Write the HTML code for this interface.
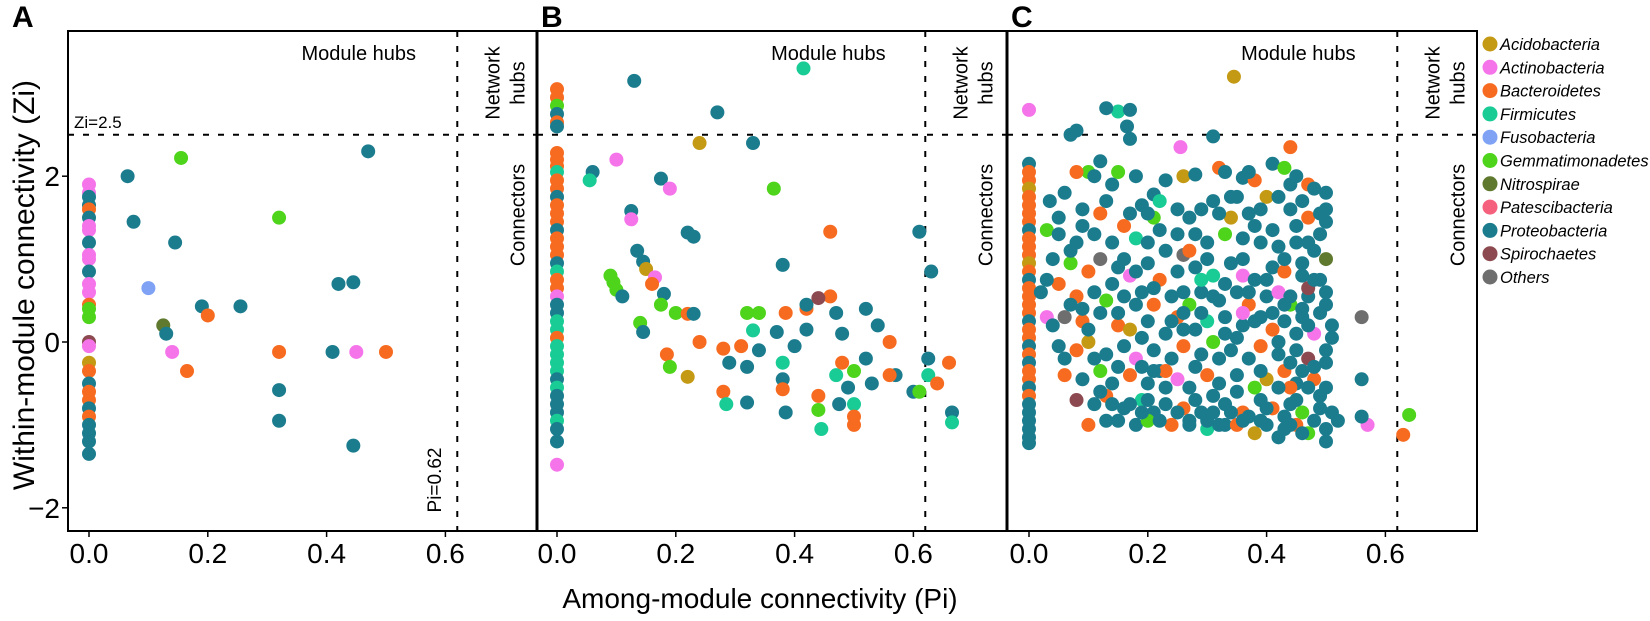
<!DOCTYPE html>
<html><head><meta charset="utf-8"><style>
body{margin:0;background:#fff;}
svg{display:block;font-family:"Liberation Sans",Arial,sans-serif;}
</style></head><body>
<svg id="chart" width="1650" height="621" viewBox="0 0 1650 621" xmlns="http://www.w3.org/2000/svg">
<g id="frames"></g>
<g id="dots"></g>
<g id="annot"></g>
<text x="0" y="0" transform="translate(34,285) rotate(-90)" text-anchor="middle" font-size="30">Within-module connectivity (Zi)</text>
<text x="760" y="608" text-anchor="middle" font-size="28">Among-module connectivity (Pi)</text>
<g id="legend"></g>
</svg>
<script>
const phyla=["Acidobacteria","Actinobacteria","Bacteroidetes","Firmicutes","Fusobacteria","Gemmatimonadetes","Nitrospirae","Patescibacteria","Proteobacteria","Spirochaetes","Others"];
const colors=["#c49a14","#f574ea","#f76b20","#19cc96","#7fa2f5","#4ed41a","#5f7a2e","#f5607d","#1b7c8e","#8c4a50","#6e6e6e"];
const xTicks=[0.0,0.2,0.4,0.6];
const yTicks=[-2,0,2];
const ziThreshold=2.5, piThreshold=0.62;
// [Pi, Zi, phylum index] triples
const dataA=[0,1.9,1,0,1.8,1,0,1.75,8,0,1.65,8,0,1.6,2,0,1.5,8,0,1.4,1,0,1.35,1,0,1.2,8,0,1.05,1,0,1.0,1,0,0.85,8,0,0.7,1,0,0.6,1,0,0.45,2,0,0.4,5,0,0.3,5,0,0.0,9,0,-0.05,1,0,-0.25,0,0,-0.35,2,0,-0.5,8,0,-0.6,2,0,-0.7,2,0,-0.8,8,0,-0.9,2,0,-1.0,8,0,-1.1,8,0,-1.2,8,0,-1.35,8,
0.065,2.0,8,0.075,1.45,8,0.1,0.65,4,0.125,0.2,6,0.13,0.1,8,0.14,-0.12,1,0.145,1.2,8,0.155,2.22,5,0.165,-0.35,2,0.19,0.43,8,0.2,0.32,2,0.255,0.43,8,0.32,1.5,5,0.32,-0.12,2,0.32,-0.58,8,0.32,-0.95,8,0.41,-0.12,8,0.42,0.7,8,0.445,0.72,8,0.45,-0.12,1,0.445,-1.25,8,0.47,2.3,8,0.5,-0.12,2];
const dataB=[0,3.05,2,0,2.95,2,0,2.85,5,0,2.75,8,0,2.65,2,0,2.6,8,0,2.28,2,0,2.2,2,0,2.12,2,0,2.05,3,0,1.95,2,0,1.85,2,0,1.75,8,0,1.65,2,0,1.55,2,0,1.45,2,0,1.35,8,0,1.25,2,0,1.15,2,0,1.05,2,0,0.95,8,0,0.85,3,0,0.75,2,0,0.65,2,0,0.55,1,0,0.45,8,0,0.35,8,0,0.25,3,0,0.15,3,0,0.05,2,0,-0.05,3,0,-0.15,3,0,-0.25,3,0,-0.35,3,0,-0.45,8,0,-0.55,3,0,-0.65,8,0,-0.75,8,0,-0.85,8,0,-0.95,3,0,-1.05,8,0,-1.2,8,0,-1.48,1,
0.13,3.15,8,0.415,3.3,3,0.27,2.77,8,0.24,2.4,0,0.1,2.2,1,0.06,2.05,8,0.055,1.95,3,0.33,2.4,8,0.175,1.97,8,0.19,1.85,1,0.365,1.85,5,0.125,1.58,8,0.125,1.48,1,0.61,1.33,8,0.46,1.33,2,0.22,1.32,8,0.23,1.27,8,0.135,1.1,8,0.145,0.97,8,0.15,0.88,0,0.38,0.93,8,0.09,0.8,5,0.095,0.72,5,0.1,0.63,5,0.11,0.55,8,0.165,0.78,1,0.16,0.7,2,0.18,0.58,8,0.175,0.45,5,0.2,0.35,5,0.22,0.34,2,0.23,0.34,8,0.32,0.35,5,0.34,0.35,5,0.385,0.35,2,0.42,0.4,2,0.42,0.45,8,0.46,0.55,2,0.47,0.35,8,0.44,0.53,9,0.52,0.4,8,0.54,0.2,8,0.63,0.85,8,0.14,0.23,5,0.145,0.12,8,0.185,-0.15,2,0.19,-0.3,5,0.24,0,2,0.22,-0.42,0,0.28,-0.08,2,0.29,-0.25,8,0.28,-0.6,2,0.285,-0.75,3,0.31,-0.05,2,0.32,-0.3,8,0.32,-0.73,8,0.33,0.14,3,0.34,-0.1,8,0.37,0.12,8,0.38,-0.25,3,0.38,-0.45,8,0.38,-0.57,2,0.385,-0.85,8,0.4,-0.05,8,0.42,0.15,8,0.44,-0.65,2,0.44,-0.82,5,0.445,-1.05,3,0.47,-0.4,3,0.48,0.1,8,0.48,-0.25,2,0.49,-0.55,8,0.5,-0.35,5,0.5,-0.75,3,0.5,-0.9,2,0.5,-1.0,2,0.52,-0.2,8,0.53,-0.5,8,0.56,0.0,2,0.57,-0.4,8,0.6,-0.6,8,0.61,-0.6,5,0.625,-0.2,8,0.625,-0.4,3,0.64,-0.5,2,0.66,-0.25,2,0.665,-0.85,8,0.665,-0.97,3,0.56,-0.4,2,0.475,-0.75,8];
const dataC=[0,2.8,1,0,2.15,8,0,2.05,2,0,1.95,2,0,1.85,0,0,1.75,2,0,1.65,2,0,1.55,2,0,1.45,2,0,1.35,8,0,1.25,2,0,1.15,2,0,1.05,2,0,0.95,0,0,0.85,2,0,0.75,8,0,0.65,2,0,0.55,2,0,0.45,2,0,0.35,2,0,0.25,8,0,0.15,2,0,0.05,2,0,-0.05,8,0,-0.15,2,0,-0.25,8,0,-0.35,2,0,-0.45,2,0,-0.55,8,0,-0.65,2,0,-0.75,8,0,-0.85,8,0,-0.95,8,0,-1.05,8,0,-1.15,8,0,-1.22,8,
0.345,3.2,0,0.15,2.78,3,0.17,2.8,8,0.13,2.82,8,0.165,2.6,8,0.07,2.5,8,0.08,2.55,8,0.31,2.48,8,0.255,2.35,1,0.44,2.35,2,0.17,2.45,8,0.10,2.05,5,0.08,2.05,2,0.12,2.18,8,0.14,1.9,8,0.15,2.05,5,0.18,2.0,8,0.21,1.78,8,0.26,2.0,0,0.28,2.02,8,0.32,2.1,2,0.33,2.05,8,0.36,1.98,8,0.38,1.95,2,0.41,2.15,8,0.43,2.1,5,0.45,2.0,8,0.47,1.9,2,0.5,1.8,8,0.06,1.8,8,0.035,1.7,8,0.09,1.6,8,0.12,1.55,2,0.16,1.4,2,0.17,1.55,8,0.19,1.65,8,0.22,1.7,3,0.25,1.6,8,0.29,1.6,8,0.31,1.7,8,0.34,1.5,0,0.37,1.55,8,0.4,1.75,0,0.44,1.6,8,0.47,1.5,2,0.49,1.55,8,0.03,1.35,5,0.05,1.3,8,0.08,1.2,8,0.11,1.3,8,0.14,1.2,8,0.18,1.25,3,0.2,1.2,8,0.23,1.1,8,0.26,1.05,10,0.27,1.1,2,0.3,1.2,8,0.33,1.3,5,0.36,1.25,8,0.39,1.2,8,0.42,1.15,8,0.45,1.2,8,0.48,1.1,8,0.5,1.0,6,0.04,1.0,8,0.07,0.95,5,0.1,0.85,2,0.12,1.0,10,0.15,0.9,8,0.17,0.8,1,0.2,0.95,8,0.22,0.75,2,0.25,0.85,8,0.28,0.9,8,0.31,0.8,3,0.34,0.95,8,0.36,0.8,1,0.38,0.75,8,0.41,0.9,8,0.43,0.85,2,0.46,0.8,8,0.49,0.75,8,0.02,0.6,8,0.05,0.7,2,0.08,0.55,2,0.11,0.6,8,0.13,0.5,5,0.16,0.55,8,0.19,0.6,8,0.21,0.45,2,0.24,0.55,8,0.27,0.45,5,0.29,0.6,8,0.32,0.5,8,0.35,0.6,8,0.37,0.45,2,0.4,0.55,8,0.42,0.6,1,0.44,0.45,5,0.47,0.55,8,0.5,0.45,8,0.56,0.3,10,0.03,0.3,1,0.06,0.3,10,0.09,0.25,2,0.12,0.35,8,0.15,0.2,2,0.17,0.15,0,0.2,0.25,8,0.23,0.1,8,0.25,0.3,2,0.28,0.15,8,0.3,0.25,3,0.33,0.1,8,0.36,0.2,8,0.39,0.3,8,0.41,0.15,2,0.43,0.25,8,0.46,0.3,8,0.48,0.1,1,0.51,0.2,8,0.05,-0.05,8,0.08,-0.1,2,0.1,0.0,0,0.13,-0.15,8,0.16,-0.05,8,0.18,-0.2,1,0.21,-0.1,8,0.24,-0.2,8,0.26,-0.05,2,0.29,-0.15,8,0.31,0.0,5,0.34,-0.1,8,0.37,-0.2,8,0.39,-0.05,2,0.42,-0.15,8,0.45,-0.1,8,0.47,-0.2,9,0.5,-0.1,8,0.06,-0.4,2,0.09,-0.45,8,0.12,-0.35,5,0.14,-0.5,8,0.17,-0.4,2,0.2,-0.5,8,0.22,-0.35,8,0.25,-0.45,1,0.27,-0.55,8,0.3,-0.4,2,0.32,-0.5,8,0.35,-0.4,8,0.38,-0.55,5,0.4,-0.45,0,0.43,-0.35,2,0.45,-0.5,8,0.48,-0.45,2,0.5,-0.55,8,0.56,-0.45,8,0.08,-0.7,9,0.11,-0.75,8,0.13,-0.65,2,0.16,-0.8,8,0.19,-0.7,3,0.21,-0.85,8,0.23,-0.75,8,0.26,-0.8,2,0.28,-0.7,8,0.31,-0.85,8,0.33,-0.75,8,0.36,-0.85,2,0.39,-0.7,8,0.41,-0.8,2,0.44,-0.75,8,0.46,-0.85,5,0.49,-0.8,8,0.1,-1.0,2,0.15,-0.95,8,0.18,-1.0,8,0.2,-0.95,5,0.24,-1.0,2,0.27,-0.95,8,0.3,-1.05,3,0.33,-1.0,8,0.35,-1.0,2,0.38,-1.1,0,0.4,-1.0,8,0.43,-1.05,8,0.45,-1.0,2,0.47,-1.1,5,0.5,-1.05,8,0.5,-1.2,8,0.57,-1.0,1,0.63,-1.12,2,0.64,-0.88,5,0.23,-0.35,2,0.36,0.35,1,0.47,0.65,9,0.29,0.75,3,0.19,-0.3,8,0.26,0.35,8,0.44,-0.55,2,0.21,1.5,5,
0.05,1.5,8,0.07,1.1,8,0.09,0.4,8,0.1,0.15,8,0.11,-0.2,8,0.12,-0.6,8,0.14,0.7,8,0.15,0.35,8,0.16,1.0,8,0.18,0.45,8,0.19,0.05,8,0.2,-0.7,8,0.21,0.65,8,0.22,1.35,8,0.23,-0.55,8,0.24,0.25,8,0.25,-0.85,8,0.26,0.6,8,0.27,1.5,8,0.28,-0.3,8,0.29,0.35,8,0.3,1.0,8,0.3,-0.95,8,0.31,0.55,8,0.32,-0.2,8,0.33,0.7,8,0.34,1.75,8,0.35,0.05,8,0.35,-0.6,8,0.36,1.0,8,0.37,-0.9,8,0.38,0.25,8,0.38,1.4,8,0.39,-0.35,8,0.4,0.75,8,0.4,-0.8,8,0.41,0.35,8,0.41,1.35,8,0.42,-0.55,8,0.42,0.0,8,0.43,1.0,8,0.43,-0.9,8,0.44,0.55,8,0.44,-0.25,8,0.45,1.4,8,0.45,0.1,8,0.45,-0.7,8,0.46,0.95,8,0.46,-0.35,8,0.46,0.4,8,0.47,1.2,8,0.47,-0.55,8,0.47,0.2,8,0.48,0.75,8,0.48,-0.95,8,0.48,-0.3,8,0.49,1.3,8,0.49,0.35,8,0.49,-0.65,8,0.5,0.6,8,0.5,-0.25,8,0.5,1.45,8,0.51,-0.85,8,0.51,0.05,8,0.52,-0.95,8,0.46,-1.1,8,0.44,-1.0,8,0.42,-1.15,8,0.39,-0.95,8,0.36,-0.95,8,0.34,-0.85,8,0.32,-1.0,8,0.29,-0.85,8,0.27,-1.0,8,0.22,-0.95,8,0.19,-0.85,8,0.17,-0.75,8,0.14,-0.75,8,0.13,-0.95,8,0.06,-0.2,8,0.07,0.45,8,0.04,0.2,8,0.03,0.75,8,0.09,1.4,8,0.13,1.7,8,0.11,2.0,8,0.2,1.55,8,0.23,1.95,8,0.25,1.3,8,0.28,1.3,8,0.32,1.55,8,0.35,1.75,8,0.37,2.05,8,0.39,1.6,8,0.42,1.75,8,0.44,1.9,8,0.46,1.7,8,0.48,1.85,8,0.5,1.6,8,0.26,0.15,8,0.31,-0.65,8,0.33,0.3,8,0.37,0.6,8,0.43,0.45,8,0.21,-0.35,8,0.18,0.85,8,0.15,-0.3,8,0.56,-0.9,8];

const NS="http://www.w3.org/2000/svg";
const TOP=31,BOTTOM=531;
const panels=[{id:"a",label:"A",left:68,right:537,x0:89,data:dataA},
{id:"b",label:"B",left:537,right:1007,x0:557,data:dataB},
{id:"c",label:"C",left:1007,right:1477,x0:1029,data:dataC}];
const PX=594;
function yScale(z){return 342-z*82.9;}
function mk(tag,attrs,parent,txt){const e=document.createElementNS(NS,tag);for(const k in attrs)e.setAttribute(k,attrs[k]);if(txt!==undefined)e.textContent=txt;parent.appendChild(e);return e;}
const frames=document.getElementById('frames'),dots=document.getElementById('dots'),annot=document.getElementById('annot'),legend=document.getElementById('legend');

panels.forEach((p,pi)=>{
  const xs=v=>p.x0+v*PX;
  const r=mk('rect',{x:p.left,y:TOP,width:p.right-p.left,height:BOTTOM-TOP,fill:'none',stroke:'#000','stroke-width':2},frames);
  
  
  if(pi>0){const l=mk('line',{x1:p.left,x2:p.left,y1:TOP,y2:BOTTOM,stroke:'#000','stroke-width':3},frames);
    
    }
  const h=mk('line',{x1:p.left,x2:p.right,y1:yScale(ziThreshold),y2:yScale(ziThreshold),stroke:'#000','stroke-width':2,'stroke-dasharray':'6 9'},frames);
  
  
  const v=mk('line',{x1:xs(piThreshold),x2:xs(piThreshold),y1:TOP,y2:BOTTOM,stroke:'#000','stroke-width':2,'stroke-dasharray':'6 9'},frames);
  
  
  xTicks.forEach(t=>{
    const tk=mk('line',{x1:xs(t),x2:xs(t),y1:BOTTOM,y2:BOTTOM+6,stroke:'#000','stroke-width':1.5},frames);
    
    
    const tl=mk('text',{x:xs(t),y:563,'text-anchor':'middle','font-size':28},frames,t.toFixed(1));
    
    
  });
  const pl=mk('text',{x:pi===0?12:p.left+4,y:27,'font-size':30,'font-weight':'bold'},annot,p.label);
  
  
  const mh=mk('text',{x:p.left+(p.right-p.left)*0.62,y:60,'text-anchor':'middle','font-size':20},annot,'Module hubs');
  
  
  const dx=xs(piThreshold);
  const nh=mk('text',{transform:`translate(${dx+42},83) rotate(-90)`,'text-anchor':'middle','font-size':20},annot);
  
  
  mk('tspan',{x:0,y:0},nh,'Network');mk('tspan',{x:0,y:25},nh,'hubs');
  const cn=mk('text',{transform:`translate(${dx+67},215) rotate(-90)`,'text-anchor':'middle','font-size':20},annot,'Connectors');
  
  
  for(let i=0;i<p.data.length;i+=3){
    const c=mk('circle',{cx:xs(p.data[i]),cy:yScale(p.data[i+1]),r:7,fill:colors[p.data[i+2]]},dots);
    
    
  }
});
yTicks.forEach(t=>{
  const tk=mk('line',{x1:62,x2:68,y1:yScale(t),y2:yScale(t),stroke:'#000','stroke-width':1.5},frames);
  
  
  const tl=mk('text',{x:60,y:yScale(t)+10,'text-anchor':'end','font-size':28},frames,t<0?'\u2212'+(-t):String(t));
  
  
});
const zl=mk('text',{x:74,y:128,'font-size':17},annot,'Zi=2.5');


const pl2=mk('text',{transform:'translate(441,480) rotate(-90)','text-anchor':'middle','font-size':19},annot,'Pi=0.62');


phyla.forEach((n,i)=>{
  const y=44+i*23.3;
  const c=mk('circle',{cx:1490,cy:y,r:7.5,fill:colors[i]},legend);
  
  
  const t=mk('text',{x:1500,y:y+6,'font-size':16.5,'font-style':'italic'},legend,n);
  
  
});
</script>
</body></html>
